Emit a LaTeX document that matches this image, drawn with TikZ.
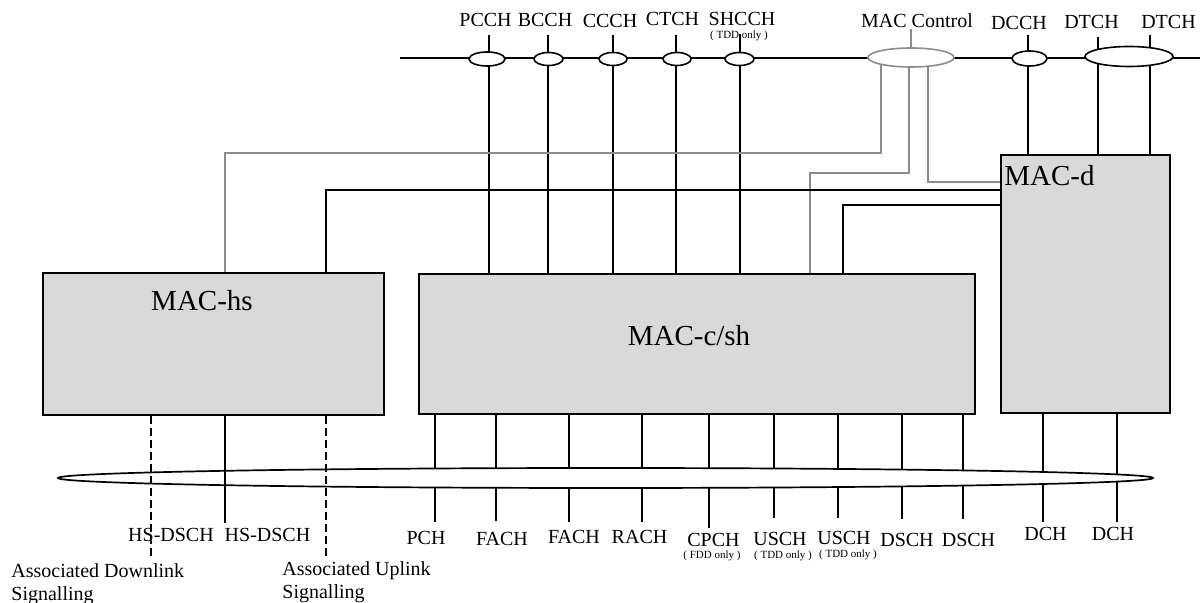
\documentclass[tikz,border=0pt]{standalone}
\usepackage{fontspec}
\setmainfont{Liberation Serif}
\usetikzlibrary{shapes.geometric}
\definecolor{boxgray}{HTML}{D9D9D9}
\definecolor{ctrlgray}{HTML}{8C8C8C}
\begin{document}
\begin{tikzpicture}[x=0.5pt,y=-0.5pt,
  box/.style={draw=black, line width=1pt, fill=boxgray, inner sep=0pt},
  lbl/.style={font=\fontsize{10pt}{11.5pt}\selectfont, inner sep=0pt},
  smalllbl/.style={font=\fontsize{5.5pt}{6.5pt}\selectfont, inner sep=0pt},
  boxlbl/.style={font=\fontsize{14.5pt}{16pt}\selectfont, inner sep=0pt},
  wire/.style={line width=0.85pt},
  gwire/.style={line width=0.8pt, draw=ctrlgray},
  dwire/.style={line width=0.85pt, dash pattern=on 4pt off 2pt},
  oval/.style={ellipse, draw=black, line width=0.8pt, fill=white, inner sep=0pt},
]
\useasboundingbox (0,0) rectangle (1200,603);
\fill[white] (0,0) rectangle (1200,603);

% boxes
\node[box, minimum width=170.5pt, minimum height=71pt] (hs) at (213.5,344) {};
\node[box, minimum width=278pt, minimum height=70pt] (csh) at (697,344) {};
\node[box, minimum width=84.5pt, minimum height=129pt] (macd) at (1085.5,284) {};
\node[boxlbl] (hstxt) at (202,301) {MAC-hs};
\node[boxlbl] (cshtxt) at (689,336) {MAC-c/sh};
\node[boxlbl, anchor=west] (macdtxt) at (1004,176) {MAC-d};

% top labels
\node[lbl] (lpcch) at (485.5,20) {PCCH};
\node[lbl] (lbcch) at (545,20) {BCCH};
\node[lbl] (lccch) at (610,20.5) {CCCH};
\node[lbl] (lctch) at (672.5,19) {CTCH};
\node[lbl] (lshcch) at (742,19) {SHCCH};
\node[smalllbl] (ltdd) at (739,36) {( TDD only )};
\node[lbl] (lmacc) at (917,21) {MAC Control};
\node[lbl] (ldcch) at (1019,22.5) {DCCH};
\node[lbl] (ldtcha) at (1091.5,22) {DTCH};
\node[lbl] (ldtchb) at (1168.5,22) {DTCH};

% top bus
\coordinate (busL) at (400,58);
\coordinate (busR) at (1200,58);
\draw[wire] (busL) -- (busR);

\coordinate (tpcch) at (489,35);
\coordinate (tbcch) at (548,35);
\coordinate (tccch) at (613,35);
\coordinate (tctch) at (676,35);
\coordinate (tshcch) at (740,34);
\coordinate (tdcch) at (1028,35);
\coordinate (tdtcha) at (1098,37);
\coordinate (tdtchb) at (1150,35);
\coordinate (tmacc) at (911,29);
\foreach \c in {tpcch,tbcch,tccch,tctch,tshcch}
  \draw[wire] (\c) -- (\c |- csh.north);
\foreach \c in {tdcch,tdtcha,tdtchb}
  \draw[wire] (\c) -- (\c |- macd.north);

% MAC control gray lines
\coordinate (ga) at (881,58);
\coordinate (gac) at (225,153);
\coordinate (gb) at (909,58);
\coordinate (gbc) at (810,173);
\coordinate (gc) at (928,58);
\coordinate (gcc) at (928,182);
\draw[gwire] (ga) |- (gac) -- (gac |- hs.north);
\draw[gwire] (gb) |- (gbc) -- (gbc |- csh.north);
\draw[gwire] (gc) -- (gcc) -- (gcc -| macd.west);

% MAC-d black lines
\coordinate (bac) at (326,190);
\coordinate (bbc) at (843,205);
\draw[wire] (bac -| macd.west) -- (bac) -- (bac |- hs.north);
\draw[wire] (bbc -| macd.west) -- (bbc) -- (bbc |- csh.north);

% top ovals
\node[oval, minimum width=18pt, minimum height=7pt] (opcch) at (487,59) {};
\node[oval, minimum width=14.5pt, minimum height=6.5pt] (obcch) at (548.5,59) {};
\node[oval, minimum width=14pt, minimum height=6.5pt] (occch) at (613,59) {};
\node[oval, minimum width=14pt, minimum height=6.5pt] (octch) at (677,59) {};
\node[oval, minimum width=14.5pt, minimum height=6.5pt] (oshcch) at (739.5,59) {};
\node[oval, draw=ctrlgray, minimum width=43pt, minimum height=9.5pt] (omacc) at (911,57.5) {};
\node[oval, minimum width=17.5pt, minimum height=7.5pt] (odcch) at (1029.5,58.5) {};
\node[oval, minimum width=44pt, minimum height=10pt] (odtch) at (1129,56.5) {};
\draw[gwire] (tmacc) -- (omacc.north);

% bottom lines
\coordinate (epch) at (435,522);
\coordinate (efacha) at (496,521);
\coordinate (efachb) at (569,522);
\coordinate (erach) at (642,522);
\coordinate (ecpch) at (709,528);
\coordinate (eusca) at (774,518);
\coordinate (euscb) at (838,518);
\coordinate (edsca) at (902,519);
\coordinate (edscb) at (963,519);
\coordinate (edcha) at (1043,522);
\coordinate (edchb) at (1117,522);
\foreach \c in {epch,efacha,efachb,erach,ecpch,eusca,euscb,edsca,edscb}
  \draw[wire] (\c |- csh.south) -- (\c);
\foreach \c in {edcha,edchb}
  \draw[wire] (\c |- macd.south) -- (\c);

% bottom bus ellipse
\node[ellipse, draw=black, line width=0.85pt, fill=white, inner sep=0pt,
      minimum width=547.5pt, minimum height=10pt] (bbus) at (605.5,478) {};

% HS lines
\coordinate (hda) at (151,557);
\coordinate (hsa) at (225,523);
\coordinate (hdb) at (326,559);
\draw[dwire] (hda |- hs.south) -- (hda);
\draw[wire] (hsa |- hs.south) -- (hsa);
\draw[dwire] (hdb |- hs.south) -- (hdb);

% bottom labels
\node[lbl] (lhsa) at (171,535) {HS-DSCH};
\node[lbl] (lhsb) at (267.5,535) {HS-DSCH};
\node[lbl] (lpch) at (426,538) {PCH};
\node[lbl] (lfacha) at (502,539) {FACH};
\node[lbl] (lfachb) at (574,537) {FACH};
\node[lbl] (lrach) at (639.5,537) {RACH};
\node[lbl] (lcpch) at (713.5,540) {CPCH};
\node[smalllbl] (lfdd) at (712,556) {( FDD only )};
\node[lbl] (lusca) at (780,539) {USCH};
\node[smalllbl] (ltdda) at (783,556) {( TDD only )};
\node[lbl] (luscb) at (844,538) {USCH};
\node[smalllbl] (ltddb) at (848,555) {( TDD only )};
\node[lbl] (ldsca) at (907,540) {DSCH};
\node[lbl] (ldscb) at (968.5,540) {DSCH};
\node[lbl] (ldcha) at (1045.5,534) {DCH};
\node[lbl] (ldchb) at (1113,534) {DCH};
\node[lbl, anchor=north west, align=left] (ladl) at (11,563) {Associated Downlink\\Signalling};
\node[lbl, anchor=north west, align=left] (laul) at (282,561) {Associated Uplink\\Signalling};
\end{tikzpicture}
\end{document}
